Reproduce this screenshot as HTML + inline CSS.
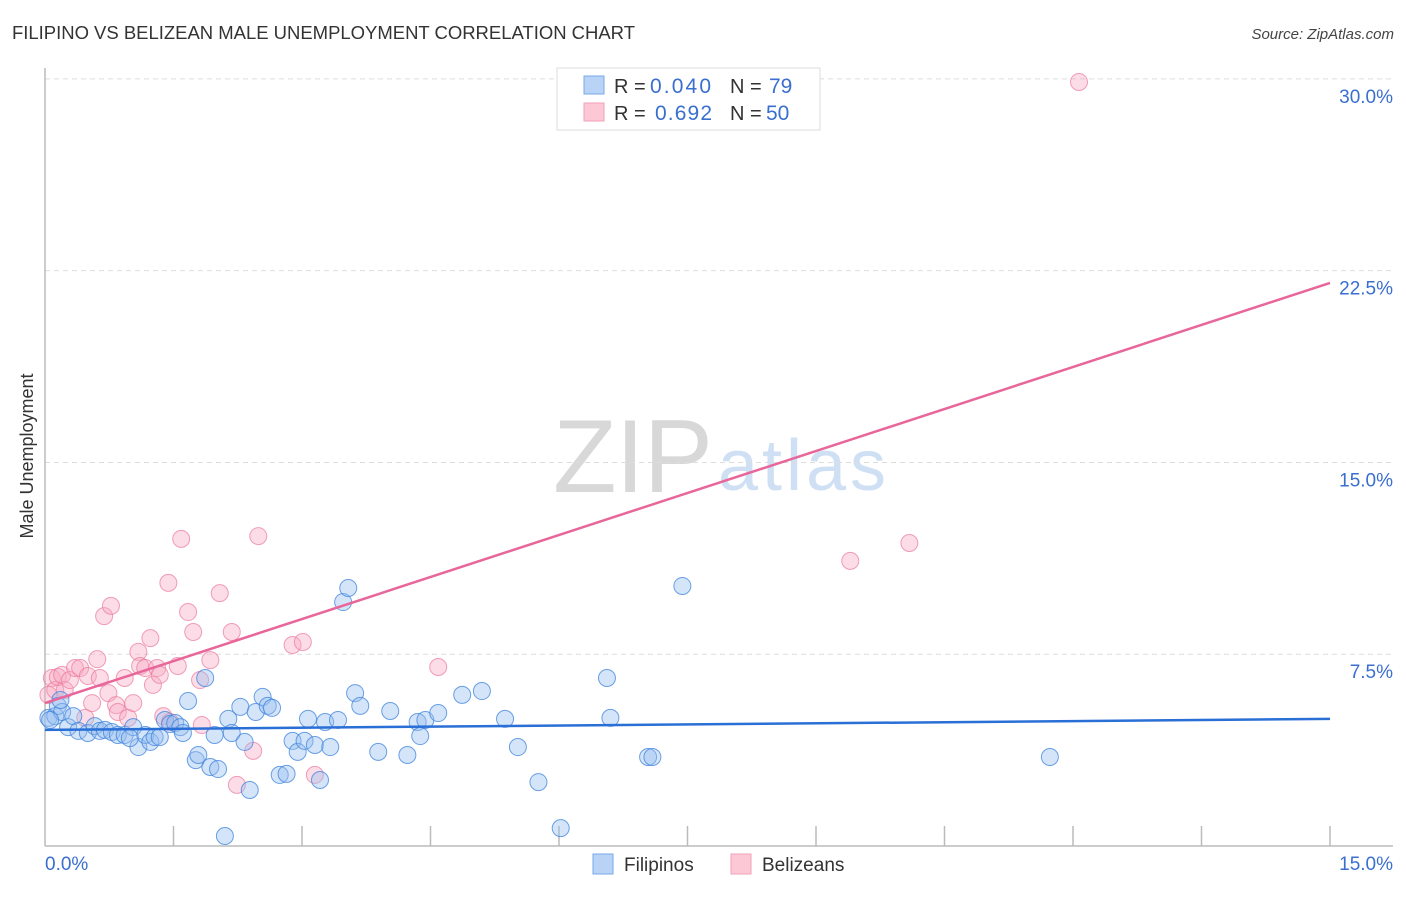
<!DOCTYPE html>
<html><head><meta charset="utf-8"><style>
body{margin:0;background:#fff;font-family:"Liberation Sans",sans-serif}
svg text{font-family:"Liberation Sans",sans-serif}
</style></head><body>
<svg id="chart" width="1406" height="892" viewBox="0 0 1406 892" xmlns="http://www.w3.org/2000/svg">
<text x="12" y="39" font-size="18.5" fill="#333" textLength="623">FILIPINO VS BELIZEAN MALE UNEMPLOYMENT CORRELATION CHART</text>
<text x="1394" y="39" font-size="15" fill="#444" text-anchor="end" font-style="italic">Source: ZipAtlas.com</text>
<g>
<text x="553" y="492" font-size="104" fill="#d8d8d8" font-family="Liberation Serif,serif" textLength="160">ZIP</text>
<text x="718" y="490" font-size="72" fill="#cfe0f5" textLength="168">atlas</text>
</g>
<text transform="translate(33,456) rotate(-90)" font-size="18" fill="#333" text-anchor="middle">Male Unemployment</text>
<g id="grid"></g>
<g id="axes"></g>
<g id="points"></g>
<g id="trends"></g>
<g>
<rect x="557" y="68" width="263" height="62" fill="#fff" stroke="#ddd"/>
<rect x="584" y="76" width="20" height="18" fill="#b8d3f5" stroke="#7aa8e8"/>
<rect x="584" y="103" width="20" height="18" fill="#fcc8d6" stroke="#f0a0b8"/>
<text x="614" y="93" font-size="20" fill="#333">R = </text>
<text x="650" y="93" font-size="21" fill="#3a6fd0" textLength="61">0.040</text>
<text x="730" y="93" font-size="20" fill="#333">N = </text>
<text x="769" y="93" font-size="21" fill="#3a6fd0">79</text>
<text x="614" y="120" font-size="20" fill="#333">R = </text>
<text x="655" y="120" font-size="21" fill="#3a6fd0" textLength="57">0.692</text>
<text x="730" y="120" font-size="20" fill="#333">N = </text>
<text x="766" y="120" font-size="21" fill="#3a6fd0">50</text>
</g>
<g>
<rect x="593" y="854" width="20" height="20" fill="#b8d3f5" stroke="#7aa8e8"/>
<text x="624" y="871" font-size="19" fill="#333">Filipinos</text>
</g>
<g>
<rect x="731" y="854" width="20" height="20" fill="#fcc8d6" stroke="#f0a0b8"/>
<text x="762" y="871" font-size="19" fill="#333">Belizeans</text>
</g>
</svg>
<script>
const yTicks=[7.5,15,22.5,30];
const yTickLabels=["7.5%","15.0%","22.5%","30.0%"];
const xTickLabels=["0.0%","15.0%"];
const blueX=[0.04,0.12,0.15,0.20,0.27,0.33,0.39,0.50,0.58,0.64,0.70,0.78,0.85,0.93,1.03,1.09,1.17,1.23,1.28,1.34,1.40,1.46,1.52,1.58,1.61,1.67,1.76,1.79,1.87,1.93,1.98,2.02,2.14,2.18,2.28,2.33,2.39,2.46,2.54,2.60,2.65,2.74,2.82,2.89,2.95,3.03,3.07,3.15,3.21,3.27,3.33,3.42,3.48,3.54,3.62,3.68,3.89,4.03,4.23,4.35,4.38,4.44,4.59,4.87,5.10,5.37,5.52,5.76,6.02,6.56,6.60,7.04,7.09,7.44,11.73,2.10,0.18,0.06,0.99];
const blueY=[5.01,5.08,5.48,5.24,4.65,5.08,4.50,4.42,4.69,4.50,4.54,4.46,4.34,4.34,4.65,3.87,4.34,4.07,4.26,4.26,4.93,4.77,4.81,4.65,4.42,5.67,3.36,3.56,6.57,3.09,4.34,3.01,4.97,4.42,5.44,4.07,2.19,5.24,5.83,5.48,5.40,2.78,2.82,4.11,3.68,4.11,4.97,3.95,2.58,4.85,3.87,4.93,9.54,10.09,5.98,5.48,3.68,5.28,3.56,4.85,4.30,4.93,5.20,5.91,6.06,4.97,3.87,2.50,0.70,6.57,5.01,3.48,3.48,10.17,3.48,0.39,5.71,4.93,4.22];
const pinkX=[0.04,0.08,0.12,0.15,0.20,0.23,0.29,0.35,0.41,0.47,0.50,0.55,0.61,0.64,0.69,0.74,0.77,0.83,0.85,0.93,0.97,1.03,1.09,1.11,1.17,1.23,1.26,1.31,1.34,1.38,1.44,1.46,1.55,1.59,1.67,1.73,1.81,1.83,1.93,2.04,2.18,2.24,2.43,2.49,2.89,3.01,3.15,4.59,9.40,10.09,12.07];
const pinkY=[5.91,6.57,6.10,6.61,6.69,6.10,6.49,6.96,6.96,5.01,6.65,5.59,7.31,6.57,8.99,5.98,9.39,5.51,5.24,6.57,5.01,5.59,7.59,7.04,6.96,8.13,6.30,6.96,6.69,5.08,10.29,4.85,7.04,12.01,9.15,8.37,6.49,4.73,7.27,9.89,8.37,2.39,3.72,12.12,7.86,7.98,2.78,7.00,11.15,11.85,29.88];
const blueTrend=[4.54,4.97];
const pinkTrend=[5.59,22.02];
const X0=45,X1=1330,Y0=846,PX_PER_Y=25.57;
const sx=v=>X0+(X1-X0)*v/15;
const sy=v=>Y0-v*PX_PER_Y;
const NS="http://www.w3.org/2000/svg";
function mk(tag,attrs,parent){const e=document.createElementNS(NS,tag);for(const k in attrs)e.setAttribute(k,attrs[k]);parent.appendChild(e);return e;}
const grid=document.getElementById('grid'),axes=document.getElementById('axes');
yTicks.forEach((t,i)=>{
  const g=mk('line',{x1:45,x2:1393,y1:sy(t),y2:sy(t),stroke:'#ddd','stroke-dasharray':'5,4'},grid);
  
  
  const lb=mk('text',{x:1393,y:sy(t)+24,'font-size':19,fill:'#3a6fd0','text-anchor':'end'},axes);
  lb.textContent=yTickLabels[i];
  
  
});
const ax=mk('line',{x1:45,x2:1393,y1:846,y2:846,stroke:'#bbb','stroke-width':1.5},axes);


const ay=mk('line',{x1:45,x2:45,y1:68,y2:846,stroke:'#bbb','stroke-width':1.5},axes);


for(let i=1;i<=10;i++){
  const t=mk('line',{x1:sx(i*1.5),x2:sx(i*1.5),y1:826,y2:846,stroke:'#bbb','stroke-width':1.5},axes);
  
  
}
const xl0=mk('text',{x:45,y:870,'font-size':19,fill:'#3a6fd0'},axes);xl0.textContent=xTickLabels[0];


const xl1=mk('text',{x:1393,y:870,'font-size':19,fill:'#3a6fd0','text-anchor':'end'},axes);xl1.textContent=xTickLabels[1];


const pts=document.getElementById('points');
pinkX.forEach((x,i)=>{
  const c=mk('circle',{cx:sx(x),cy:sy(pinkY[i]),r:8.5,fill:'rgba(248,170,195,0.4)',stroke:'rgba(235,120,155,0.7)','stroke-width':1},pts);
  
  
});
blueX.forEach((x,i)=>{
  const c=mk('circle',{cx:sx(x),cy:sy(blueY[i]),r:8.5,fill:'rgba(150,190,240,0.4)',stroke:'rgba(60,130,220,0.75)','stroke-width':1},pts);
  
  
});
const tr=document.getElementById('trends');
const bt=mk('line',{x1:sx(0),x2:sx(15),y1:sy(blueTrend[0]),y2:sy(blueTrend[1]),stroke:'#2a6fd6','stroke-width':2.5},tr);


const pt=mk('line',{x1:sx(0),x2:sx(15),y1:sy(pinkTrend[0]),y2:sy(pinkTrend[1]),stroke:'#e8669a','stroke-width':2.5},tr);


</script>
</body></html>
